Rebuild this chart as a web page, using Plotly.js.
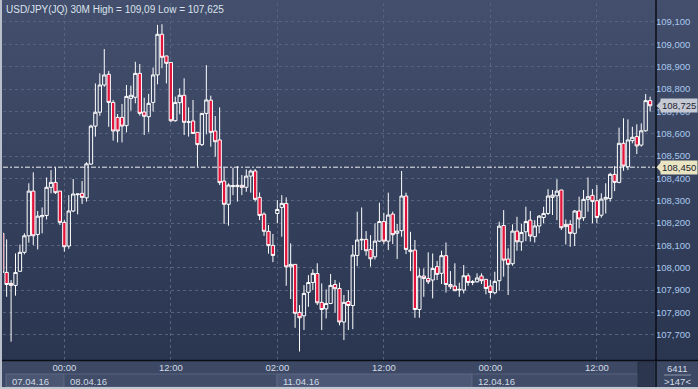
<!DOCTYPE html>
<html><head><meta charset="utf-8">
<script src="https://cdn.plot.ly/plotly-3.0.1.min.js"></script>
<style>
html,body{margin:0;padding:0;width:698px;height:389px;overflow:hidden;background:#2f3b56;}
#chart{position:absolute;left:0;top:0;width:698px;height:389px;background:linear-gradient(#434f6c 0px,#2a3650 360px,#3c4864 361px);}
</style></head><body><div id="chart"></div>
<script>
// 30-minute candles, 07.04.16 - 12.04.16 (index 0..146)
const opens=[108.154,107.979,107.930,107.921,107.984,108.069,108.143,108.343,108.149,108.228,
108.234,108.360,108.382,108.343,108.203,108.097,108.254,108.327,108.333,108.313,
108.464,108.634,108.696,108.818,108.866,108.740,108.673,108.673,108.636,108.758,
108.763,108.870,108.697,108.676,108.740,108.863,109.045,108.948,108.919,108.658,
108.739,108.772,108.651,108.657,108.606,108.551,108.691,108.750,108.612,108.572,
108.388,108.284,108.363,108.363,108.369,108.360,108.410,108.433,108.315,108.240,
108.163,108.100,108.243,108.270,108.288,108.004,108.015,107.800,107.785,107.890,
107.934,107.974,107.845,107.816,107.840,107.925,107.907,107.757,107.849,107.831,
108.055,108.124,108.127,108.082,108.049,108.119,108.207,108.119,108.240,108.154,
108.166,108.321,108.072,108.079,107.813,107.963,107.952,107.945,108.005,107.975,
108.054,107.925,107.918,107.900,107.900,107.964,107.934,107.937,107.963,107.948,
107.918,107.888,107.942,108.189,108.039,108.018,108.164,108.116,108.161,108.213,
108.139,108.187,108.225,108.243,108.315,108.322,108.348,108.184,108.194,108.154,
108.254,108.224,108.306,108.324,108.300,108.235,108.307,108.310,108.418,108.382,
108.557,108.452,108.569,108.587,108.549,108.613,108.748];
const highs=[108.154,108.127,107.945,108.064,108.104,108.154,108.378,108.427,108.254,108.270,
108.404,108.437,108.449,108.343,108.213,108.325,108.397,108.330,108.388,108.472,
108.640,108.825,108.870,108.979,108.881,108.751,108.688,108.733,108.818,108.815,
108.922,108.912,108.761,108.778,108.896,109.087,109.090,108.948,108.919,108.766,
108.803,108.848,108.718,108.751,108.606,108.691,108.907,108.770,108.679,108.718,
108.448,108.378,108.448,108.455,108.415,108.440,108.440,108.442,108.337,108.248,
108.191,108.151,108.303,108.325,108.315,108.109,108.015,107.833,107.922,107.967,
107.993,108.020,107.930,107.903,107.972,107.945,107.934,107.878,107.900,108.101,
108.251,108.270,108.164,108.146,108.199,108.291,108.246,108.336,108.251,108.196,
108.433,108.336,108.161,108.124,107.997,107.997,108.069,108.064,108.030,108.076,
108.113,107.985,108.020,107.933,108.012,107.975,107.945,107.975,107.975,107.948,
107.945,107.982,108.206,108.258,108.087,108.194,108.228,108.196,108.273,108.254,
108.213,108.236,108.273,108.352,108.348,108.396,108.348,108.216,108.213,108.258,
108.318,108.348,108.404,108.352,108.370,108.333,108.378,108.425,108.455,108.627,
108.669,108.664,108.631,108.642,108.646,108.778,108.766];
const lows=[107.975,107.870,107.669,107.875,107.984,108.060,108.112,108.101,108.082,108.154,
108.216,108.333,108.330,108.191,108.072,108.085,108.249,108.239,108.285,108.296,
108.460,108.587,108.680,108.810,108.631,108.569,108.561,108.561,108.606,108.703,
108.736,108.681,108.594,108.606,108.699,108.821,108.893,108.825,108.651,108.654,
108.687,108.594,108.587,108.599,108.452,108.545,108.597,108.542,108.497,108.370,
108.196,108.188,108.325,108.296,108.325,108.340,108.336,108.296,108.213,108.143,
108.063,108.025,108.199,108.139,107.919,107.860,107.731,107.625,107.721,107.825,
107.900,107.833,107.721,107.773,107.837,107.799,107.742,107.676,107.721,107.725,
108.007,108.079,108.054,108.005,108.037,108.115,108.106,108.079,108.106,108.039,
108.139,108.061,107.985,107.776,107.776,107.870,107.927,107.863,107.945,107.927,
107.889,107.904,107.896,107.870,107.885,107.919,107.922,107.933,107.927,107.881,
107.863,107.881,107.897,107.960,107.878,108.009,108.076,108.076,108.119,108.117,
108.113,108.154,108.199,108.236,108.236,108.213,108.169,108.104,108.094,108.097,
108.176,108.210,108.251,108.199,108.199,108.224,108.243,108.296,108.343,108.378,
108.434,108.437,108.557,108.509,108.542,108.609,108.699];
const closes=[107.979,107.925,107.921,107.979,108.069,108.143,108.343,108.143,108.231,108.234,
108.360,108.382,108.336,108.203,108.094,108.254,108.330,108.330,108.315,108.465,
108.634,108.696,108.818,108.863,108.740,108.612,108.612,108.634,108.767,108.772,
108.870,108.691,108.678,108.736,108.863,109.045,108.942,108.915,108.658,108.740,
108.772,108.651,108.653,108.601,108.551,108.691,108.751,108.606,108.564,108.381,
108.284,108.370,108.367,108.369,108.360,108.410,108.433,108.306,108.234,108.163,
108.099,108.055,108.261,108.288,108.004,108.015,107.796,107.776,107.885,107.934,
107.975,107.843,107.813,107.840,107.921,107.906,107.757,107.845,107.831,108.057,
108.124,108.127,108.076,108.040,108.119,108.207,108.119,108.236,108.148,108.164,
108.321,108.082,108.079,107.813,107.963,107.952,107.937,107.997,107.970,108.054,
107.925,107.915,107.897,107.903,107.964,107.934,107.937,107.954,107.942,107.907,
107.889,107.939,108.186,108.034,108.015,108.164,108.116,108.158,108.207,108.142,
108.187,108.231,108.243,108.321,108.325,108.343,108.179,108.194,108.154,108.254,
108.218,108.306,108.318,108.297,108.225,108.307,108.315,108.418,108.382,108.557,
108.455,108.572,108.584,108.545,108.613,108.748,108.725];
const candleIndex=opens.map((_,i)=>i);

const timeTickIdx=[14,38,62,86,110,134];
const timeTickText=["00:00","12:00","02:00","12:00","00:00","12:00"];
const priceTicks=[107.7,107.8,107.9,108.0,108.1,108.2,108.3,108.4,108.5,108.6,108.7,108.8,108.9,109.0,109.1];
const priceTickText=priceTicks.map(v=>v.toFixed(3).replace('.',','));
const dateLabels=["07.04.16","08.04.16","11.04.16","12.04.16"];
const titleText="USD/JPY(JQ) 30M High = 109,09 Low = 107,625";
const lastPrice=108.725, refPrice=108.450;
const barsTotal="6411", barsShown=">147<";

const W=698,H=389,ML=3,MR=43,MT=3,MB=29;
const PW=W-ML-MR, PH=H-MT-MB;
const yRange=[107.587,109.185];
const px=x=>(x-ML)/PW;                 // pixel x -> paper x
const py=y=>(H-MB-y)/PH;               // pixel y -> paper y
const pp=p=>(p-yRange[0])/(yRange[1]-yRange[0]); // price -> paper y
const font='"Liberation Sans", Arial, sans-serif';

const trace={type:'candlestick',x:candleIndex,open:opens,high:highs,low:lows,close:closes,
  increasing:{line:{color:'#ffffff',width:1},fillcolor:'rgba(0,0,0,0)'},
  decreasing:{line:{color:'#ffffff',width:1},fillcolor:'#e3143c'},
  whiskerwidth:0,hoverinfo:'skip',showlegend:false};

const shapes=[
  {type:'rect',xref:'paper',yref:'paper',x0:px(0),x1:px(W),y0:py(H),y1:py(360.5),fillcolor:'#3c4864',line:{width:0},layer:'below'},
  {type:'rect',xref:'paper',yref:'paper',x0:px(6),x1:px(64),y0:py(387),y1:py(374),fillcolor:'#4a5672',line:{color:'#5c6884',width:1},layer:'below'},
  {type:'rect',xref:'paper',yref:'paper',x0:px(64),x1:px(277),y0:py(387),y1:py(374),fillcolor:'#404c68',line:{color:'#56627e',width:1},layer:'below'},
  {type:'rect',xref:'paper',yref:'paper',x0:px(277),x1:px(472),y0:py(387),y1:py(374),fillcolor:'#4c5876',line:{color:'#5c6884',width:1},layer:'below'},
  {type:'rect',xref:'paper',yref:'paper',x0:px(472),x1:px(638),y0:py(387),y1:py(374),fillcolor:'#404c68',line:{color:'#56627e',width:1},layer:'below'},
  {type:'rect',xref:'paper',yref:'paper',x0:px(638),x1:px(654),y0:py(387),y1:py(362),fillcolor:'#2c374f',line:{color:'#252f44',width:1},layer:'below'},
  {type:'line',xref:'paper',yref:'paper',x0:px(0),x1:px(W),y0:py(360.5),y1:py(360.5),line:{color:'#0a0e16',width:1.5}},
  {type:'line',xref:'paper',yref:'paper',x0:px(656),x1:px(656),y0:py(0),y1:py(H),line:{color:'#0a0e16',width:1.5}},
  {type:'line',xref:'paper',yref:'paper',x0:px(664),x1:px(691),y0:py(375),y1:py(375),line:{color:'#8d97aa',width:1}},
  {type:'line',xref:'paper',yref:'paper',x0:px(1),x1:px(1),y0:py(0),y1:py(H),line:{color:'#b9c0cb',width:2}},
  {type:'line',xref:'paper',yref:'paper',x0:px(0),x1:px(W),y0:py(388),y1:py(388),line:{color:'#c3c8d0',width:2}},
  {type:'line',xref:'paper',yref:'y',x0:0,x1:1,y0:refPrice,y1:refPrice,line:{color:'rgba(255,255,255,0.9)',width:1,dash:'5px,2px,2px,2px'}},
  {type:'path',xref:'paper',yref:'paper',path:`M ${px(656.5)},${pp(lastPrice)} L ${px(661)},${pp(lastPrice)+5/PH} L ${px(661)},${pp(lastPrice)-5/PH} Z`,fillcolor:'#c5c9d3',line:{width:0}},
  {type:'path',xref:'paper',yref:'paper',path:`M ${px(656.5)},${pp(refPrice)} L ${px(661)},${pp(refPrice)+5/PH} L ${px(661)},${pp(refPrice)-5/PH} Z`,fillcolor:'#e9e5c3',line:{width:0}}
];

const ann=[
  {xref:'paper',yref:'paper',x:px(4),y:py(9),xanchor:'left',yanchor:'middle',showarrow:false,text:titleText,font:{family:font,size:10,color:'#dbe2ec'}},
  {xref:'paper',yref:'paper',x:px(10),y:py(381),xanchor:'left',yanchor:'middle',showarrow:false,text:dateLabels[0],font:{family:font,size:9.5,color:'#d3dbe6'}},
  {xref:'paper',yref:'paper',x:px(68),y:py(381),xanchor:'left',yanchor:'middle',showarrow:false,text:dateLabels[1],font:{family:font,size:9.5,color:'#d3dbe6'}},
  {xref:'paper',yref:'paper',x:px(281),y:py(381),xanchor:'left',yanchor:'middle',showarrow:false,text:dateLabels[2],font:{family:font,size:9.5,color:'#d3dbe6'}},
  {xref:'paper',yref:'paper',x:px(476),y:py(381),xanchor:'left',yanchor:'middle',showarrow:false,text:dateLabels[3],font:{family:font,size:9.5,color:'#d3dbe6'}},
  {xref:'paper',yref:'paper',x:px(677),y:py(368),xanchor:'center',yanchor:'middle',showarrow:false,text:barsTotal,font:{family:font,size:9.5,color:'#d3dbe6'}},
  {xref:'paper',yref:'paper',x:px(677),y:py(381),xanchor:'center',yanchor:'middle',showarrow:false,text:barsShown,font:{family:font,size:9.5,color:'#d3dbe6'}},
  {xref:'paper',yref:'y',x:px(660),y:lastPrice,xanchor:'left',yanchor:'middle',showarrow:false,text:lastPrice.toFixed(3).replace('.',','),bgcolor:'#c5c9d3',borderpad:1,font:{family:font,size:9.5,color:'#1e2430'}},
  {xref:'paper',yref:'y',x:px(660),y:refPrice,xanchor:'left',yanchor:'middle',showarrow:false,text:refPrice.toFixed(3).replace('.',','),bgcolor:'#e9e5c3',borderpad:1,font:{family:font,size:9.5,color:'#1e2430'}}
];

const layout={width:W,height:H,margin:{l:ML,r:MR,t:MT,b:MB,pad:0},
  paper_bgcolor:'rgba(0,0,0,0)',plot_bgcolor:'rgba(0,0,0,0)',
  boxgap:0.25,boxgroupgap:0,showlegend:false,
  xaxis:{range:[0.18,147.1],rangeslider:{visible:false},tickmode:'array',tickvals:timeTickIdx,ticktext:timeTickText,
    showgrid:true,gridcolor:'#56637f',griddash:'3px,3px',gridwidth:1,zeroline:false,showline:false,ticks:'',
    tickfont:{family:font,size:9.5,color:'#d3dbe6'},fixedrange:true},
  yaxis:{range:yRange,side:'right',tickmode:'array',tickvals:priceTicks,ticktext:priceTickText,
    showgrid:true,gridcolor:'#56637f',griddash:'3px,3px',gridwidth:1,zeroline:false,showline:false,ticks:'',
    tickfont:{family:font,size:9.5,color:'#a9c8ee'},fixedrange:true},
  shapes:shapes,annotations:ann,font:{family:font}};

Plotly.newPlot('chart',[trace],layout,{staticPlot:true,displayModeBar:false});
</script></body></html>
